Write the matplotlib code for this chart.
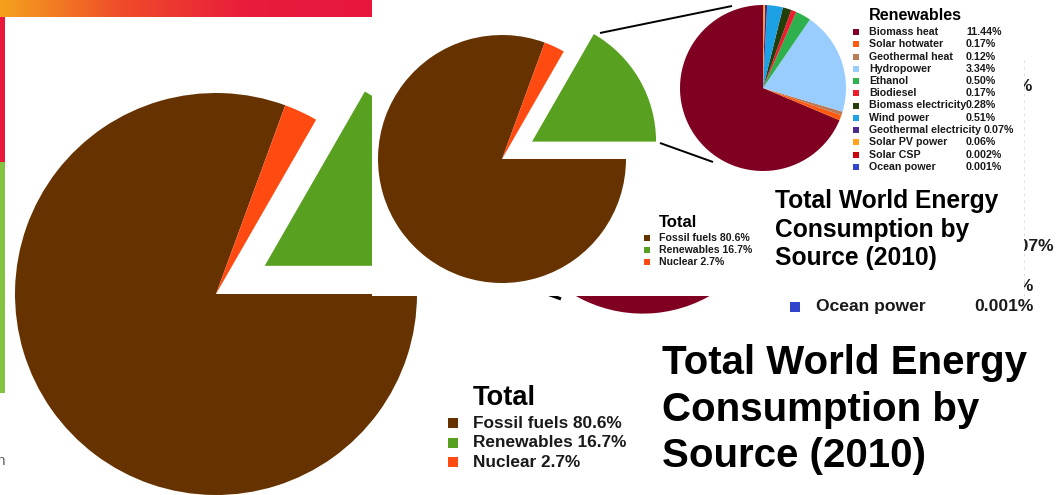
import numpy as np
import matplotlib
matplotlib.use("Agg")
import matplotlib.pyplot as plt
from matplotlib.patches import Rectangle
from matplotlib.colors import LinearSegmentedColormap
from matplotlib.font_manager import FontProperties
from matplotlib.transforms import Bbox

plt.rcParams['font.family'] = ['Liberation Sans', 'DejaVu Sans']

# world energy mix 2010, share of total consumption (%)
total_labels = ['Fossil fuels', 'Renewables', 'Nuclear']
total_values = [80.6, 16.7, 2.7]
total_colors = ['#663300', '#58a01f', '#ff4a12']

renew_labels = ['Biomass heat', 'Solar hotwater', 'Geothermal heat', 'Hydropower',
                'Ethanol', 'Biodiesel', 'Biomass electricity', 'Wind power',
                'Geothermal electricity', 'Solar PV power', 'Solar CSP', 'Ocean power']
renew_values = [11.44, 0.17, 0.12, 3.34, 0.50, 0.17, 0.28, 0.51, 0.07, 0.06, 0.002, 0.001]
renew_colors = ['#7f0020', '#ff5a10', '#b97a57', '#99ccff', '#2eb04c', '#ee1c2e',
                '#233d0b', '#1ca0e6', '#4a2a8c', '#ffa21a', '#cc0011', '#3344cc']

title_lines = ['Total World Energy', 'Consumption by', 'Source (2010)']

W, H = 1062, 495
# white panel of the compact chart: x0, x1, bottom row (pixels)
PANEL = (372, 1024, 296)


def py(y):
    # pixel rows run downwards, data y runs upwards
    return H - y


def pct(v):
    return f'{v:.2f}%' if v >= 0.01 else f'{v:.3f}%'


def text_width(renderer, s, size):
    prop = FontProperties(family=plt.rcParams['font.family'], weight='bold', size=size)
    w, _, _ = renderer.get_text_width_height_descent(s, prop, ismath=False)
    return w


def draw_chart(ax, cx, cy, r, s, z, covered=False):
    """Both pies, zoom lines, legends and title. s = scale, z = base zorder.
    With covered=True, text lying under the compact panel is left out."""
    renderer = ax.figure.canvas.get_renderer()

    # total pie, renewables wedge pulled out
    start = 360 * (total_values[1] + total_values[2]) / sum(total_values)
    wedges, _ = ax.pie(total_values, colors=total_colors, startangle=start,
                       counterclock=True, center=(cx, py(cy)), radius=r,
                       explode=[0, 0.28 * r, 0], wedgeprops=dict(linewidth=0))
    for w in wedges:
        w.set_zorder(z)

    # renewables breakdown
    rx, ry, rr = cx + 261 * s, cy - 71 * s, 83 * s
    wedges, _ = ax.pie(renew_values, colors=renew_colors, startangle=90,
                       counterclock=True, center=(rx, py(ry)), radius=rr,
                       wedgeprops=dict(linewidth=0))
    for w in wedges:
        w.set_zorder(z)

    for (x0, y0), (x1, y1) in [((98, -126), (230, -153)), ((158, -16), (211, 3))]:
        ax.plot([cx + x0 * s, cx + x1 * s], [py(cy + y0 * s), py(cy + y1 * s)],
                color='black', lw=1.4 * s, solid_capstyle='butt', zorder=z)

    # total legend
    lx, ly = cx + 157 * s, cy + 62 * s
    ax.text(lx, py(ly + 6 * s), 'Total', fontsize=12 * s, fontweight='bold',
            ha='left', va='baseline', zorder=z + 1)
    for i, (lab, val, col) in enumerate(zip(total_labels, total_values, total_colors)):
        yy = py(ly + (17 + 12 * i) * s)
        ax.plot(lx - 12 * s, yy, 's', ms=4.4 * s, color=col, mew=0, zorder=z + 1)
        ax.text(lx, yy, f'{lab} {val:.1f}%', fontsize=7.6 * s, fontweight='bold',
                ha='left', va='center', color='#1a1a1a', zorder=z + 1)

    # renewables legend
    gx, gy = cx + 367 * s, cy - 144 * s
    fs = 7.7 * s
    if not covered:
        ax.text(gx, py(gy), 'Renewables', fontsize=11.6 * s, fontweight='bold',
                ha='left', va='center', zorder=z + 1)
    clip = Bbox.from_extents(PANEL[1], 0, W, H)
    for i, (lab, val, col) in enumerate(zip(renew_labels, renew_values, renew_colors)):
        ypx = gy + (17 + 12.25 * i) * s
        yy = py(ypx)
        hidden = covered and ypx < PANEL[2]
        if lab == 'Geothermal electricity':
            vx = gx + text_width(renderer, lab + ' ', fs)
        else:
            vx = gx + 97 * s
        t = ax.text(vx, yy, pct(val), fontsize=fs, fontweight='bold',
                    ha='left', va='center', color='#1a1a1a', zorder=z + 1)
        if hidden:
            # only the tail end pokes out beside the panel
            t.set_clip_box(clip)
            t.set_clip_on(True)
            continue
        ax.plot(gx - 13 * s, yy, 's', ms=4.4 * s, color=col, mew=0, zorder=z + 1)
        ax.text(gx, yy, lab, fontsize=fs, fontweight='bold',
                ha='left', va='center', color='#1a1a1a', zorder=z + 1)

    # title
    tx = cx + 273 * s
    for i, line in enumerate(title_lines):
        ax.text(tx, py(cy + (49 + 28.5 * i) * s), line, fontsize=17.7 * s,
                fontweight='bold', ha='left', va='baseline', zorder=z + 1)


fig = plt.figure(figsize=(W / 100, H / 100), dpi=100)
ax = fig.add_axes([0, 0, 1, 1])
ax.set_xlim(0, W)
ax.set_ylim(0, H)

# slide background behind the enlarged chart
grad = np.linspace(0, 1, 256).reshape(1, -1)
band = LinearSegmentedColormap.from_list('band', ['#f5a21d', '#ef4a2a', '#e91c3c', '#e8163d'])
ax.imshow(grad, cmap=band, extent=(0, PANEL[0], py(17), py(0)), aspect='auto', zorder=0)
ax.add_patch(Rectangle((0, py(162)), 5, 145, color='#e8173b', lw=0, zorder=0))
ax.add_patch(Rectangle((0, py(393)), 5, 231, color='#84c341', lw=0, zorder=0))
ax.text(-4, py(465), 'n', fontsize=11, color='#666666', zorder=0)
ax.text(-4, py(488), 'i', fontsize=11, color='#666666', zorder=0)

# enlarged chart
draw_chart(ax, 216, 294, 201, 1.635, z=2, covered=True)

# compact chart laid over the top
ax.add_patch(Rectangle((PANEL[0], py(PANEL[2])), PANEL[1] - PANEL[0], PANEL[2],
                       color='white', lw=0, zorder=5))
ax.plot([PANEL[1], PANEL[1]], [py(60), py(PANEL[2])], color='#d8d8d8', lw=0.6,
        ls=(0, (3, 5)), zorder=5)
draw_chart(ax, 502, 159, 124, 1.0, z=6)

ax.set_xlim(0, W)
ax.set_ylim(0, H)
ax.set_aspect('auto')
ax.axis('off')

fig.savefig('out.png', dpi=100, facecolor='white')
